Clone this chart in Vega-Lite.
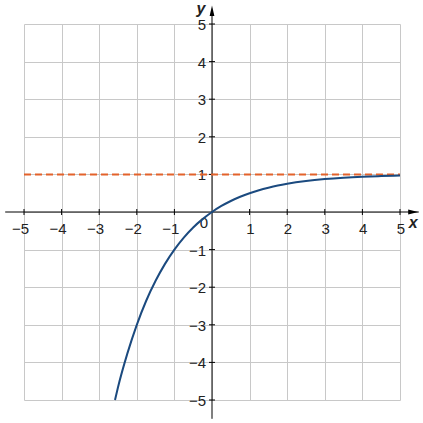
{
  "$schema": "https://vega.github.io/schema/vega-lite/v6.json",
  "width": 376,
  "height": 376,
  "autosize": "none",
  "padding": {"left": 24, "top": 24, "right": 23, "bottom": 23},
  "background": "white",
  "datasets": {
    "curve": [
      {"x": -2.58, "y": -5},
      {"x": -2.5, "y": -4.66},
      {"x": -2.25, "y": -3.76},
      {"x": -2, "y": -3},
      {"x": -1.75, "y": -2.36},
      {"x": -1.5, "y": -1.83},
      {"x": -1.25, "y": -1.38},
      {"x": -1, "y": -1},
      {"x": -0.75, "y": -0.68},
      {"x": -0.5, "y": -0.41},
      {"x": -0.25, "y": -0.19},
      {"x": 0, "y": 0},
      {"x": 0.25, "y": 0.16},
      {"x": 0.5, "y": 0.293},
      {"x": 0.75, "y": 0.405},
      {"x": 1, "y": 0.5},
      {"x": 1.25, "y": 0.58},
      {"x": 1.5, "y": 0.646},
      {"x": 1.75, "y": 0.703},
      {"x": 2, "y": 0.75},
      {"x": 2.5, "y": 0.823},
      {"x": 3, "y": 0.875},
      {"x": 3.5, "y": 0.912},
      {"x": 4, "y": 0.938},
      {"x": 4.5, "y": 0.956},
      {"x": 5, "y": 0.969}
    ],
    "asymptote": [{"x": -5, "y": 1}, {"x": 5, "y": 1}],
    "axes": [
      {"x1": -5.5, "x2": 5.5, "y1": 0, "y2": 0},
      {"x1": 0, "x2": 0, "y1": -5.5, "y2": 5.3}
    ],
    "ticks": [
      {"v": -5, "label": "−5"}, {"v": -4, "label": "−4"}, {"v": -3, "label": "−3"},
      {"v": -2, "label": "−2"}, {"v": -1, "label": "−1"}, {"v": 1, "label": "1"},
      {"v": 2, "label": "2"}, {"v": 3, "label": "3"}, {"v": 4, "label": "4"},
      {"v": 5, "label": "5"}
    ]
  },
  "encoding": {
    "x": {
      "type": "quantitative",
      "scale": {"domain": [-5, 5], "nice": false, "zero": false},
      "axis": {"values": [-5, -4, -3, -2, -1, 0, 1, 2, 3, 4, 5], "grid": true, "labels": false, "ticks": false, "domain": false, "title": null, "gridColor": "#c8c8c8", "gridOpacity": 1}
    },
    "y": {
      "type": "quantitative",
      "scale": {"domain": [-5, 5], "nice": false, "zero": false},
      "axis": {"values": [-5, -4, -3, -2, -1, 0, 1, 2, 3, 4, 5], "grid": true, "labels": false, "ticks": false, "domain": false, "title": null, "gridColor": "#c8c8c8", "gridOpacity": 1}
    }
  },
  "layer": [
    {
      "data": {"name": "axes"},
      "mark": {"type": "rule", "color": "black", "strokeWidth": 1},
      "encoding": {
        "x": {"field": "x1", "type": "quantitative"},
        "x2": {"field": "x2"},
        "y": {"field": "y1", "type": "quantitative"},
        "y2": {"field": "y2"}
      }
    },
    {
      "data": {"name": "ticks"},
      "mark": {"type": "point", "shape": "M0,-1L0,1", "size": 36, "color": "black", "strokeWidth": 1, "filled": false, "opacity": 1},
      "encoding": {
        "x": {"field": "v", "type": "quantitative"},
        "y": {"datum": 0}
      }
    },
    {
      "data": {"name": "ticks"},
      "mark": {"type": "point", "shape": "M-1,0L1,0", "size": 36, "color": "black", "strokeWidth": 1, "filled": false, "opacity": 1},
      "encoding": {
        "x": {"datum": 0},
        "y": {"field": "v", "type": "quantitative"}
      }
    },
    {
      "data": {"name": "ticks"},
      "mark": {"type": "text", "align": "right", "baseline": "middle", "dx": 5, "dy": 17, "font": "Liberation Sans", "fontSize": 15, "color": "#222"},
      "encoding": {
        "x": {"field": "v", "type": "quantitative"},
        "y": {"datum": 0},
        "text": {"field": "label"}
      }
    },
    {
      "data": {"name": "ticks"},
      "mark": {"type": "text", "align": "right", "baseline": "middle", "dx": -6, "dy": 1, "font": "Liberation Sans", "fontSize": 15, "color": "#222"},
      "encoding": {
        "x": {"datum": 0},
        "y": {"field": "v", "type": "quantitative"},
        "text": {"field": "label"}
      }
    },
    {
      "data": {"values": [{"x": 0, "y": 0, "label": "0"}]},
      "mark": {"type": "text", "align": "right", "baseline": "middle", "dx": -4, "dy": 11, "font": "Liberation Sans", "fontSize": 15, "color": "#222"},
      "encoding": {
        "x": {"field": "x", "type": "quantitative"},
        "y": {"field": "y", "type": "quantitative"},
        "text": {"field": "label"}
      }
    },
    {
      "data": {"name": "asymptote"},
      "mark": {"type": "line", "color": "#e3622b", "strokeWidth": 2, "strokeDash": [7, 4]},
      "encoding": {
        "x": {"field": "x", "type": "quantitative"},
        "y": {"field": "y", "type": "quantitative"}
      }
    },
    {
      "data": {"name": "curve"},
      "mark": {"type": "line", "color": "#1b4a7f", "strokeWidth": 2, "interpolate": "monotone"},
      "encoding": {
        "x": {"field": "x", "type": "quantitative"},
        "y": {"field": "y", "type": "quantitative"}
      }
    },
    {
      "data": {"values": [{"x": 5.35, "y": 0}]},
      "mark": {"type": "point", "shape": "M1,0L-1,0.5L-1,-0.5Z", "size": 100, "color": "black", "filled": true, "opacity": 1},
      "encoding": {
        "x": {"field": "x", "type": "quantitative"},
        "y": {"field": "y", "type": "quantitative"}
      }
    },
    {
      "data": {"values": [{"x": 0, "y": 5.35}]},
      "mark": {"type": "point", "shape": "M0,-1L0.45,1L-0.45,1Z", "size": 110, "color": "black", "filled": true, "opacity": 1},
      "encoding": {
        "x": {"field": "x", "type": "quantitative"},
        "y": {"field": "y", "type": "quantitative"}
      }
    },
    {
      "data": {"values": [{"x": 5.35, "y": 0, "label": "x"}]},
      "mark": {"type": "text", "align": "center", "baseline": "middle", "dy": 11, "font": "Liberation Sans", "fontSize": 16, "fontStyle": "italic", "fontWeight": "bold", "color": "#222"},
      "encoding": {
        "x": {"field": "x", "type": "quantitative"},
        "y": {"field": "y", "type": "quantitative"},
        "text": {"field": "label"}
      }
    },
    {
      "data": {"values": [{"x": 0, "y": 5.4, "label": "y"}]},
      "mark": {"type": "text", "align": "center", "baseline": "middle", "dx": -11, "font": "Liberation Sans", "fontSize": 16, "fontStyle": "italic", "fontWeight": "bold", "color": "#222"},
      "encoding": {
        "x": {"field": "x", "type": "quantitative"},
        "y": {"field": "y", "type": "quantitative"},
        "text": {"field": "label"}
      }
    }
  ],
  "config": {"view": {"stroke": null}}
}
